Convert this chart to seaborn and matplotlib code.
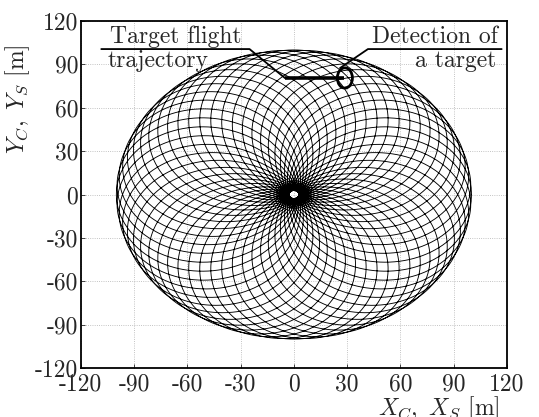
import numpy as np
import matplotlib
matplotlib.use("Agg")
import matplotlib.pyplot as plt
from matplotlib.patches import Ellipse
import seaborn as sns

# rosette scan pattern parameters
outer_radius = 100.0
hole_radius = 2.8
freq_fast = 49
freq_slow = 3

# target flight trajectory and detection spot
traj_x = [-5.0, 28.0]
traj_y = [80.5, 80.5]
detect_xy = (28.7, 80.6)
detect_size = (8.5, 14.0)

ticks = [-120, -90, -60, -30, 0, 30, 60, 90, 120]

a1 = (outer_radius + hole_radius) / 2
a2 = (outer_radius - hole_radius) / 2
t = np.linspace(0, 2 * np.pi, 40001)
xs = a1 * np.cos(freq_fast * t) + a2 * np.cos(freq_slow * t)
ys = a1 * np.sin(freq_fast * t) - a2 * np.sin(freq_slow * t)

sns.set_style("ticks")
plt.rcParams.update({
    "font.family": "serif",
    "font.serif": ["cmr10", "DejaVu Serif"],
    "mathtext.fontset": "cm",
    "axes.unicode_minus": False,
    "axes.formatter.use_mathtext": False,
})

fig = plt.figure(figsize=(5.39, 4.17), dpi=100)
ax = fig.add_axes([0.150, 0.1175, 0.7906, 0.8321])

sns.lineplot(x=xs, y=ys, sort=False, estimator=None, color="black", lw=0.65, ax=ax)

ax.plot(traj_x, traj_y, color="black", lw=2.6, solid_capstyle="butt")
ax.add_patch(Ellipse(detect_xy, detect_size[0], detect_size[1], fill=False, lw=2.0, color="black"))

# leader lines
ax.plot([-108.5, -25, traj_x[0]], [100.6, 100.6, traj_y[0]], color="black", lw=1.3)
ax.plot([26.0, 41.7, 117], [87.5, 100.6, 100.6], color="black", lw=1.3)

fs = 17
ax.text(-103.7, 104.8, "Target flight", fontsize=fs, va="baseline", ha="left")
ax.text(-104.8, 88.2, "trajectory", fontsize=fs, va="baseline", ha="left")
ax.text(114.6, 104.8, "Detection of", fontsize=fs, va="baseline", ha="right")
ax.text(114.0, 88.2, "a target", fontsize=fs, va="baseline", ha="right")

ax.set_xlim(-120, 120)
ax.set_ylim(-120, 120)
ax.set_xticks(ticks)
ax.set_yticks(ticks)
ax.set_xticklabels([str(v) for v in ticks])
ax.set_yticklabels([str(v) for v in ticks])
ax.tick_params(direction="in", length=3, width=0.6, labelsize=fs, pad=2)
ax.tick_params(axis="x", pad=4)
ax.grid(True, ls=":", lw=0.6, color="#b0b0b0")
ax.set_axisbelow(True)
for s in ax.spines.values():
    s.set_linewidth(1.3)
    s.set_color("black")

ax.set_xlabel(r"$X_C,\ X_S$ [m]", fontsize=fs)
ax.set_ylabel(r"$Y_C,\ Y_S$ [m]", fontsize=fs)
ax.xaxis.set_label_coords(0.983, -0.075)
ax.xaxis.label.set_ha("right")
ax.xaxis.label.set_va("top")
ax.yaxis.set_label_coords(-0.115, 0.775)

fig.savefig("out.png", dpi=100)
